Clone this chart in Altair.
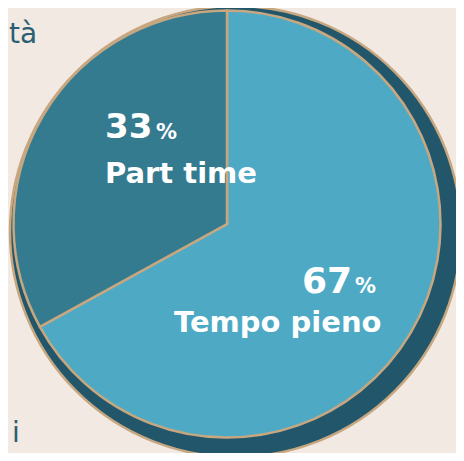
import altair as alt
import pandas as pd

# Data
categories = ["Tempo pieno", "Part time"]
values = [67, 33]
colors = ["#4eaac4", "#357b90"]

df = pd.DataFrame({"categoria": categories, "valore": values, "ordine": [0, 1]})
one = pd.DataFrame({"k": [0]})

BG = "#f1e9e2"
TAN = "#c7a780"
SHADOW = "#22566a"
FONT = "DejaVu Sans"

shadow = alt.Chart(one).mark_arc(
    theta=0, theta2=6.2832, outerRadius=225.5, fill=SHADOW, stroke=TAN, strokeWidth=2.5
).encode(x=alt.value(227.5), y=alt.value(223.5))

pie = alt.Chart(df).mark_arc(
    outerRadius=213.5, stroke=TAN, strokeWidth=2.5
).encode(
    theta=alt.Theta("valore:Q", stack=True),
    order=alt.Order("ordine:Q"),
    color=alt.Color("categoria:N", scale=alt.Scale(domain=categories, range=colors), legend=None),
    x=alt.value(219),
    y=alt.value(216),
)

def txt(s, x, y, size, weight="bold", color="white", align="left"):
    return alt.Chart(one).mark_text(
        text=s, font=FONT, fontSize=size, fontWeight=weight, color=color,
        align=align, baseline="alphabetic"
    ).encode(x=alt.value(x), y=alt.value(y))

labels = [
    txt("33", 97, 130, 34),
    txt("%", 148, 131, 21),
    txt("Part time", 97, 175, 29),
    txt("67", 294, 285, 36),
    txt("%", 347, 285, 21),
    txt("Tempo pieno", 166, 324, 29),
    txt("tà", 1, 35, 28, weight="normal", color="#2b5e73", align="left"),
    txt("i", 4, 434, 28, weight="normal", color="#2b5e73", align="left"),
]

chart = alt.layer(shadow, pie, *labels).properties(
    width=448, height=445, autosize=alt.AutoSizeParams(type="none"), padding=0,
    background=BG
).configure_view(stroke=None)

chart.save("out.html", embed_options={"renderer": "svg", "actions": False})
